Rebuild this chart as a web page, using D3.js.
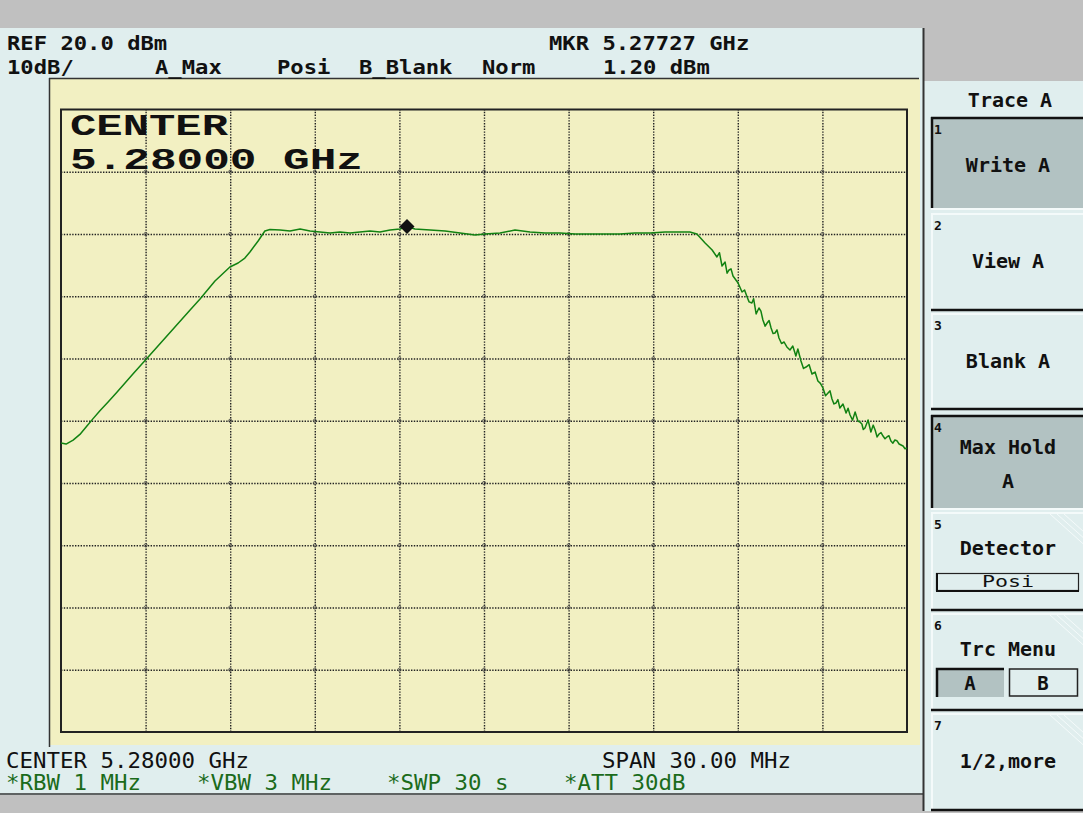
<!DOCTYPE html>
<html>
<head>
<meta charset="utf-8">
<script src="https://cdn.jsdelivr.net/npm/d3@7"></script>
<style>
  html, body { margin: 0; padding: 0; background: #e0eeee; }
  svg { display: block; }
</style>
</head>
<body>
<svg id="chart" width="1083" height="813"></svg>
<script>
// ---------------- DATA ----------------
const freqMHz = [
  5265.00, 5265.18, 5265.43, 5265.67, 5265.89, 5266.13, 5266.38, 5266.67, 5266.99, 5267.27,
  5267.55, 5267.98, 5268.51, 5269.04, 5269.57, 5269.93, 5270.46, 5270.99, 5271.28, 5271.52,
  5271.70, 5271.99, 5272.23, 5272.41,
  5272.77, 5273.12, 5273.48, 5273.83, 5274.18, 5274.54, 5274.89, 5275.25, 5275.60, 5275.96,
  5276.31, 5276.67, 5277.02, 5277.27, 5277.55, 5278.09, 5278.62, 5279.15, 5279.68, 5280.04,
  5280.57, 5281.10, 5281.63, 5282.16, 5282.70, 5283.23, 5283.76, 5284.29, 5284.82, 5285.35,
  5285.89, 5286.42, 5286.95, 5287.30, 5287.55,
  5287.84, 5288.09, 5288.26, 5288.35, 5288.44, 5288.55, 5288.62, 5288.69, 5288.76, 5288.83,
  5289.01, 5289.15, 5289.24, 5289.33, 5289.40, 5289.50, 5289.56, 5289.65, 5289.75, 5289.82,
  5289.89, 5289.97, 5290.04, 5290.11, 5290.18, 5290.25, 5290.32, 5290.39, 5290.46, 5290.55,
  5290.64, 5290.74, 5290.85, 5290.95, 5291.06, 5291.13, 5291.24, 5291.33, 5291.42, 5291.53,
  5291.63, 5291.74, 5291.84, 5291.93, 5292.02, 5292.11, 5292.20, 5292.27, 5292.34, 5292.41,
  5292.48, 5292.55, 5292.62, 5292.73, 5292.84, 5292.91, 5292.98, 5293.07, 5293.16, 5293.26,
  5293.33, 5293.40, 5293.45, 5293.51, 5293.62, 5293.72, 5293.80, 5293.87, 5293.94, 5294.01,
  5294.08, 5294.15, 5294.22, 5294.29, 5294.36, 5294.43, 5294.50, 5294.57, 5294.64, 5294.72,
  5294.79, 5294.86, 5294.93, 5295.00
];
const levelDbm = [
  -33.57, -33.74, -33.10, -32.20, -31.00, -29.70, -28.40, -27.00, -25.40, -23.94,
  -22.50, -20.34, -17.64, -14.94, -12.24, -10.44, -7.55, -5.30, -4.66, -3.86,
  -2.89, -1.12, 0.48, 0.72,
  0.64, 0.48, 0.80, 0.48, 0.32, 0.16, 0.32, 0.16, 0.32, 0.48,
  0.32, 0.64, 0.80, 1.20, 0.80, 0.64, 0.48, 0.16, -0.16, 0.00,
  0.16, 0.64, 0.32, 0.16, 0.16, 0.00, 0.00, 0.00, 0.00, 0.16,
  0.16, 0.32, 0.32, 0.32, 0.00,
  -1.45, -2.57, -3.69, -3.00, -5.14, -4.50, -6.30, -5.78, -5.60, -6.75,
  -7.87, -9.32, -9.00, -10.12, -10.90, -11.08, -10.40, -12.85, -11.89, -12.40,
  -13.82, -14.80, -14.30, -13.90, -15.10, -16.00, -15.90, -15.40, -16.71, -17.60,
  -17.35, -18.15, -18.63, -18.00, -19.60, -18.47, -20.40, -21.60, -21.37, -21.00,
  -22.49, -22.17, -23.61, -24.00, -24.74, -26.00, -25.54, -25.20, -26.51, -27.30,
  -27.15, -26.60, -27.95, -27.31, -28.76, -28.00, -29.08, -29.90, -28.59, -30.04,
  -30.20, -30.52, -31.40, -31.16, -29.88, -31.81, -30.70, -31.49, -32.60, -32.13,
  -31.90, -32.45, -32.90, -32.61, -32.40, -33.25, -33.60, -33.09, -33.20, -33.74,
  -33.90, -34.06, -34.50, -34.38
];
const markerFreq = 5277.27;
const markerLevel = 1.20;
const freqDomain = [5265, 5295];
const levelDomain = [-80, 20];
const gridFreqs = [5268, 5271, 5274, 5277, 5280, 5283, 5286, 5289, 5292];
const gridLevels = [10, 0, -10, -20, -30, -40, -50, -60, -70];

const headerTexts = [
  {t: "REF 20.0 dBm", x: 7, y: 50},
  {t: "10dB/", x: 7, y: 74},
  {t: "A_Max", x: 155, y: 74},
  {t: "Posi", x: 277, y: 74},
  {t: "B_Blank", x: 359, y: 74},
  {t: "Norm", x: 482, y: 74},
  {t: "MKR 5.27727 GHz", x: 549, y: 50},
  {t: "1.20 dBm", x: 603, y: 74}
];
const footerTexts = [
  {t: "CENTER 5.28000 GHz", x: 6, y: 768, c: "#111"},
  {t: "SPAN 30.00 MHz", x: 602, y: 768, c: "#111"},
  {t: "*RBW 1 MHz", x: 6, y: 790, c: "#1b6b1b"},
  {t: "*VBW 3 MHz", x: 197, y: 790, c: "#1b6b1b"},
  {t: "*SWP 30 s", x: 387, y: 790, c: "#1b6b1b"},
  {t: "*ATT 30dB", x: 564, y: 790, c: "#1b6b1b"}
];
const softkeys = [
  {n: "1", lines: ["Write A"], top: 117, bottom: 208, sel: true},
  {n: "2", lines: ["View A"], top: 213, bottom: 310, sel: false},
  {n: "3", lines: ["Blank A"], top: 313, bottom: 409, sel: false},
  {n: "4", lines: ["Max Hold", "A"], top: 415, bottom: 508, sel: true},
  {n: "5", lines: ["Detector"], top: 512, bottom: 610, sel: false},
  {n: "6", lines: ["Trc Menu"], top: 613, bottom: 710, sel: false},
  {n: "7", lines: ["1/2,more"], top: 713, bottom: 810, sel: false}
];

// ---------------- DRAW ----------------
const svg = d3.select("#chart");
const W = 1083, H = 813;
const mono = "'DejaVu Sans Mono', 'Liberation Mono', monospace";

// backgrounds
svg.append("rect").attr("x", 0).attr("y", 0).attr("width", W).attr("height", H).attr("fill", "#e0eeee");
svg.append("rect").attr("x", 0).attr("y", 0).attr("width", W).attr("height", 28).attr("fill", "#c0c0c0");
svg.append("rect").attr("x", 924).attr("y", 0).attr("width", W - 924).attr("height", 81).attr("fill", "#c0c0c0");
svg.append("rect").attr("x", 0).attr("y", 795).attr("width", 924).attr("height", H - 795).attr("fill", "#c0c0c0");
svg.append("rect").attr("x", 924).attr("y", 811).attr("width", W - 924).attr("height", H - 811).attr("fill", "#c0c0c0");
svg.append("line").attr("x1", 0).attr("x2", 923).attr("y1", 794).attr("y2", 794).attr("stroke", "#333").attr("stroke-width", 1.5);

// outer yellow panel
svg.append("rect").attr("x", 50).attr("y", 79).attr("width", 870).attr("height", 666).attr("fill", "#f2f0c2");
svg.append("line").attr("x1", 49).attr("x2", 919).attr("y1", 78.5).attr("y2", 78.5).attr("stroke", "#333").attr("stroke-width", 1.5);
svg.append("line").attr("x1", 49.5).attr("x2", 49.5).attr("y1", 78).attr("y2", 747).attr("stroke", "#333").attr("stroke-width", 1.5);
// right panel divider
svg.append("line").attr("x1", 923.5).attr("x2", 923.5).attr("y1", 28).attr("y2", 811).attr("stroke", "#333").attr("stroke-width", 2);

// plot area
const pL = 61, pR = 907, pT = 109.5, pB = 732;
const x = d3.scaleLinear().domain(freqDomain).range([pL, pR]);
const y = d3.scaleLinear().domain(levelDomain).range([pB, pT]);

const gridG = svg.append("g");
gridG.append("g")
  .attr("transform", `translate(0,${pB})`)
  .call(d3.axisBottom(x).tickValues(gridFreqs).tickSize(-(pB - pT)).tickFormat(""))
  .call(g => g.select(".domain").remove());
gridG.append("g")
  .attr("transform", `translate(${pL},0)`)
  .call(d3.axisLeft(y).tickValues(gridLevels).tickSize(-(pR - pL)).tickFormat(""))
  .call(g => g.select(".domain").remove());
gridG.selectAll(".tick line")
  .attr("stroke", "#222").attr("stroke-width", 1.4).attr("stroke-dasharray", "1.4,1.4");

// grid intersection marks
const inter = [];
gridFreqs.forEach(f => gridLevels.forEach(l => inter.push([f, l])));
svg.append("g").selectAll("circle").data(inter).join("circle")
  .attr("cx", d => x(d[0])).attr("cy", d => y(d[1])).attr("r", 1.6)
  .attr("fill", "none").attr("stroke", "#444").attr("stroke-width", 0.8);

svg.append("rect").attr("x", pL).attr("y", pT).attr("width", pR - pL).attr("height", pB - pT)
  .attr("fill", "none").attr("stroke", "#222").attr("stroke-width", 2);

// trace
const pts = freqMHz.map((f, i) => [f, levelDbm[i]]);
svg.append("path").datum(pts)
  .attr("d", d3.line().x(d => x(d[0])).y(d => y(d[1])))
  .attr("fill", "none").attr("stroke", "#128212").attr("stroke-width", 1.5).attr("stroke-linejoin", "round");

// marker diamond
const mx = x(markerFreq), my = y(markerLevel);
svg.append("path")
  .attr("d", `M${mx},${my - 7.5} L${mx + 7.5},${my} L${mx},${my + 7.5} L${mx - 7.5},${my} Z`)
  .attr("fill", "#111");

// big center label
const bigFont = "'Liberation Mono', 'Courier New', monospace";
svg.append("text").text("CENTER").attr("x", 70).attr("y", 135)
  .attr("font-family", bigFont).attr("font-weight", "bold")
  .attr("font-size", 29).attr("textLength", 158).attr("lengthAdjust", "spacingAndGlyphs").attr("fill", "#111");
svg.append("text").text("5.28000 GHz").attr("x", 70).attr("y", 169)
  .attr("font-family", bigFont).attr("font-weight", "bold")
  .attr("font-size", 29).attr("textLength", 293).attr("lengthAdjust", "spacingAndGlyphs").attr("fill", "#111");

// header texts
svg.append("g").selectAll("text").data(headerTexts).join("text")
  .text(d => d.t).attr("x", d => d.x).attr("y", d => d.y)
  .attr("font-family", mono).attr("font-weight", "bold").attr("font-size", 19)
  .attr("textLength", d => d.t.length * 13.35).attr("lengthAdjust", "spacingAndGlyphs")
  .attr("fill", "#111");

// footer texts
svg.append("g").selectAll("text").data(footerTexts).join("text")
  .text(d => d.t).attr("x", d => d.x).attr("y", d => d.y)
  .attr("font-family", mono).attr("font-size", 21)
  .attr("textLength", d => d.t.length * 13.5).attr("lengthAdjust", "spacingAndGlyphs")
  .attr("fill", d => d.c);

// ---------------- SOFTKEY PANEL ----------------
const panel = svg.append("g");
panel.append("text").text("Trace A").attr("x", 1010).attr("y", 107).attr("text-anchor", "middle")
  .attr("font-family", mono).attr("font-weight", "bold").attr("font-size", 20).attr("fill", "#111");

const bx = 931, bw = W - 931;
softkeys.forEach(k => {
  const g = panel.append("g");
  if (k.sel) {
    g.append("rect").attr("x", bx).attr("y", k.top).attr("width", bw).attr("height", k.bottom - k.top).attr("fill", "#b2c2c2");
    g.append("line").attr("x1", bx).attr("x2", W).attr("y1", k.top + 1).attr("y2", k.top + 1).attr("stroke", "#111").attr("stroke-width", 2.5);
    g.append("line").attr("x1", bx + 1).attr("x2", bx + 1).attr("y1", k.top).attr("y2", k.bottom).attr("stroke", "#111").attr("stroke-width", 2.5);
    g.append("line").attr("x1", bx).attr("x2", W).attr("y1", k.bottom + 1).attr("y2", k.bottom + 1).attr("stroke", "#f4fafa").attr("stroke-width", 2);
  } else {
    g.append("line").attr("x1", bx).attr("x2", W).attr("y1", k.top + 1).attr("y2", k.top + 1).attr("stroke", "#f4fafa").attr("stroke-width", 2);
    g.append("line").attr("x1", bx + 1).attr("x2", bx + 1).attr("y1", k.top).attr("y2", k.bottom).attr("stroke", "#f4fafa").attr("stroke-width", 2);
    g.append("line").attr("x1", bx).attr("x2", W).attr("y1", k.bottom).attr("y2", k.bottom).attr("stroke", "#111").attr("stroke-width", 2.5);
    if (+k.n >= 5) {
      [0, 7, 14].forEach(o => {
        g.append("line").attr("x1", 1050 + o).attr("y1", k.top + 2).attr("x2", W).attr("y2", k.top + 2 + (W - 1050 - o) * 0.9)
          .attr("stroke", "#f4fafa").attr("stroke-width", 1);
      });
    }
  }
  g.append("text").text(k.n).attr("x", 934).attr("y", k.top + 17)
    .attr("font-family", mono).attr("font-weight", "bold").attr("font-size", 13).attr("fill", "#111");
  const lineYs = k.lines.length === 2 ? [k.top + 39, k.top + 73] : (k.n === "5" || k.n === "6" ? [k.top + 43] : [k.top + 55]);
  k.lines.forEach((t, i) => {
    g.append("text").text(t).attr("x", 1008).attr("y", lineYs[i]).attr("text-anchor", "middle")
      .attr("font-family", mono).attr("font-weight", "bold").attr("font-size", 20).attr("fill", "#111");
  });
});

// Detector box
panel.append("rect").attr("x", 936.5).attr("y", 573.5).attr("width", 142).attr("height", 17)
  .attr("fill", "none").attr("stroke", "#222").attr("stroke-width", 1.2);
panel.append("path").attr("d", "M937,573 L937,591 L1079,591").attr("fill", "none").attr("stroke", "#111").attr("stroke-width", 2);
panel.append("text").text("Posi").attr("x", 1008).attr("y", 587).attr("text-anchor", "middle")
  .attr("font-family", mono).attr("font-size", 15).attr("textLength", 52).attr("lengthAdjust", "spacingAndGlyphs").attr("fill", "#111");

// Trc Menu A / B boxes
panel.append("rect").attr("x", 936).attr("y", 668).attr("width", 68).attr("height", 29).attr("fill", "#b2c2c2");
panel.append("path").attr("d", "M937,697 L937,669 L1004,669").attr("fill", "none").attr("stroke", "#111").attr("stroke-width", 2.5);
panel.append("rect").attr("x", 1009.5).attr("y", 669).attr("width", 68).attr("height", 27)
  .attr("fill", "none").attr("stroke", "#222").attr("stroke-width", 1.5);
panel.append("text").text("A").attr("x", 970).attr("y", 690).attr("text-anchor", "middle")
  .attr("font-family", mono).attr("font-weight", "bold").attr("font-size", 19).attr("fill", "#111");
panel.append("text").text("B").attr("x", 1043).attr("y", 690).attr("text-anchor", "middle")
  .attr("font-family", mono).attr("font-weight", "bold").attr("font-size", 19).attr("fill", "#111");
</script>
</body>
</html>
